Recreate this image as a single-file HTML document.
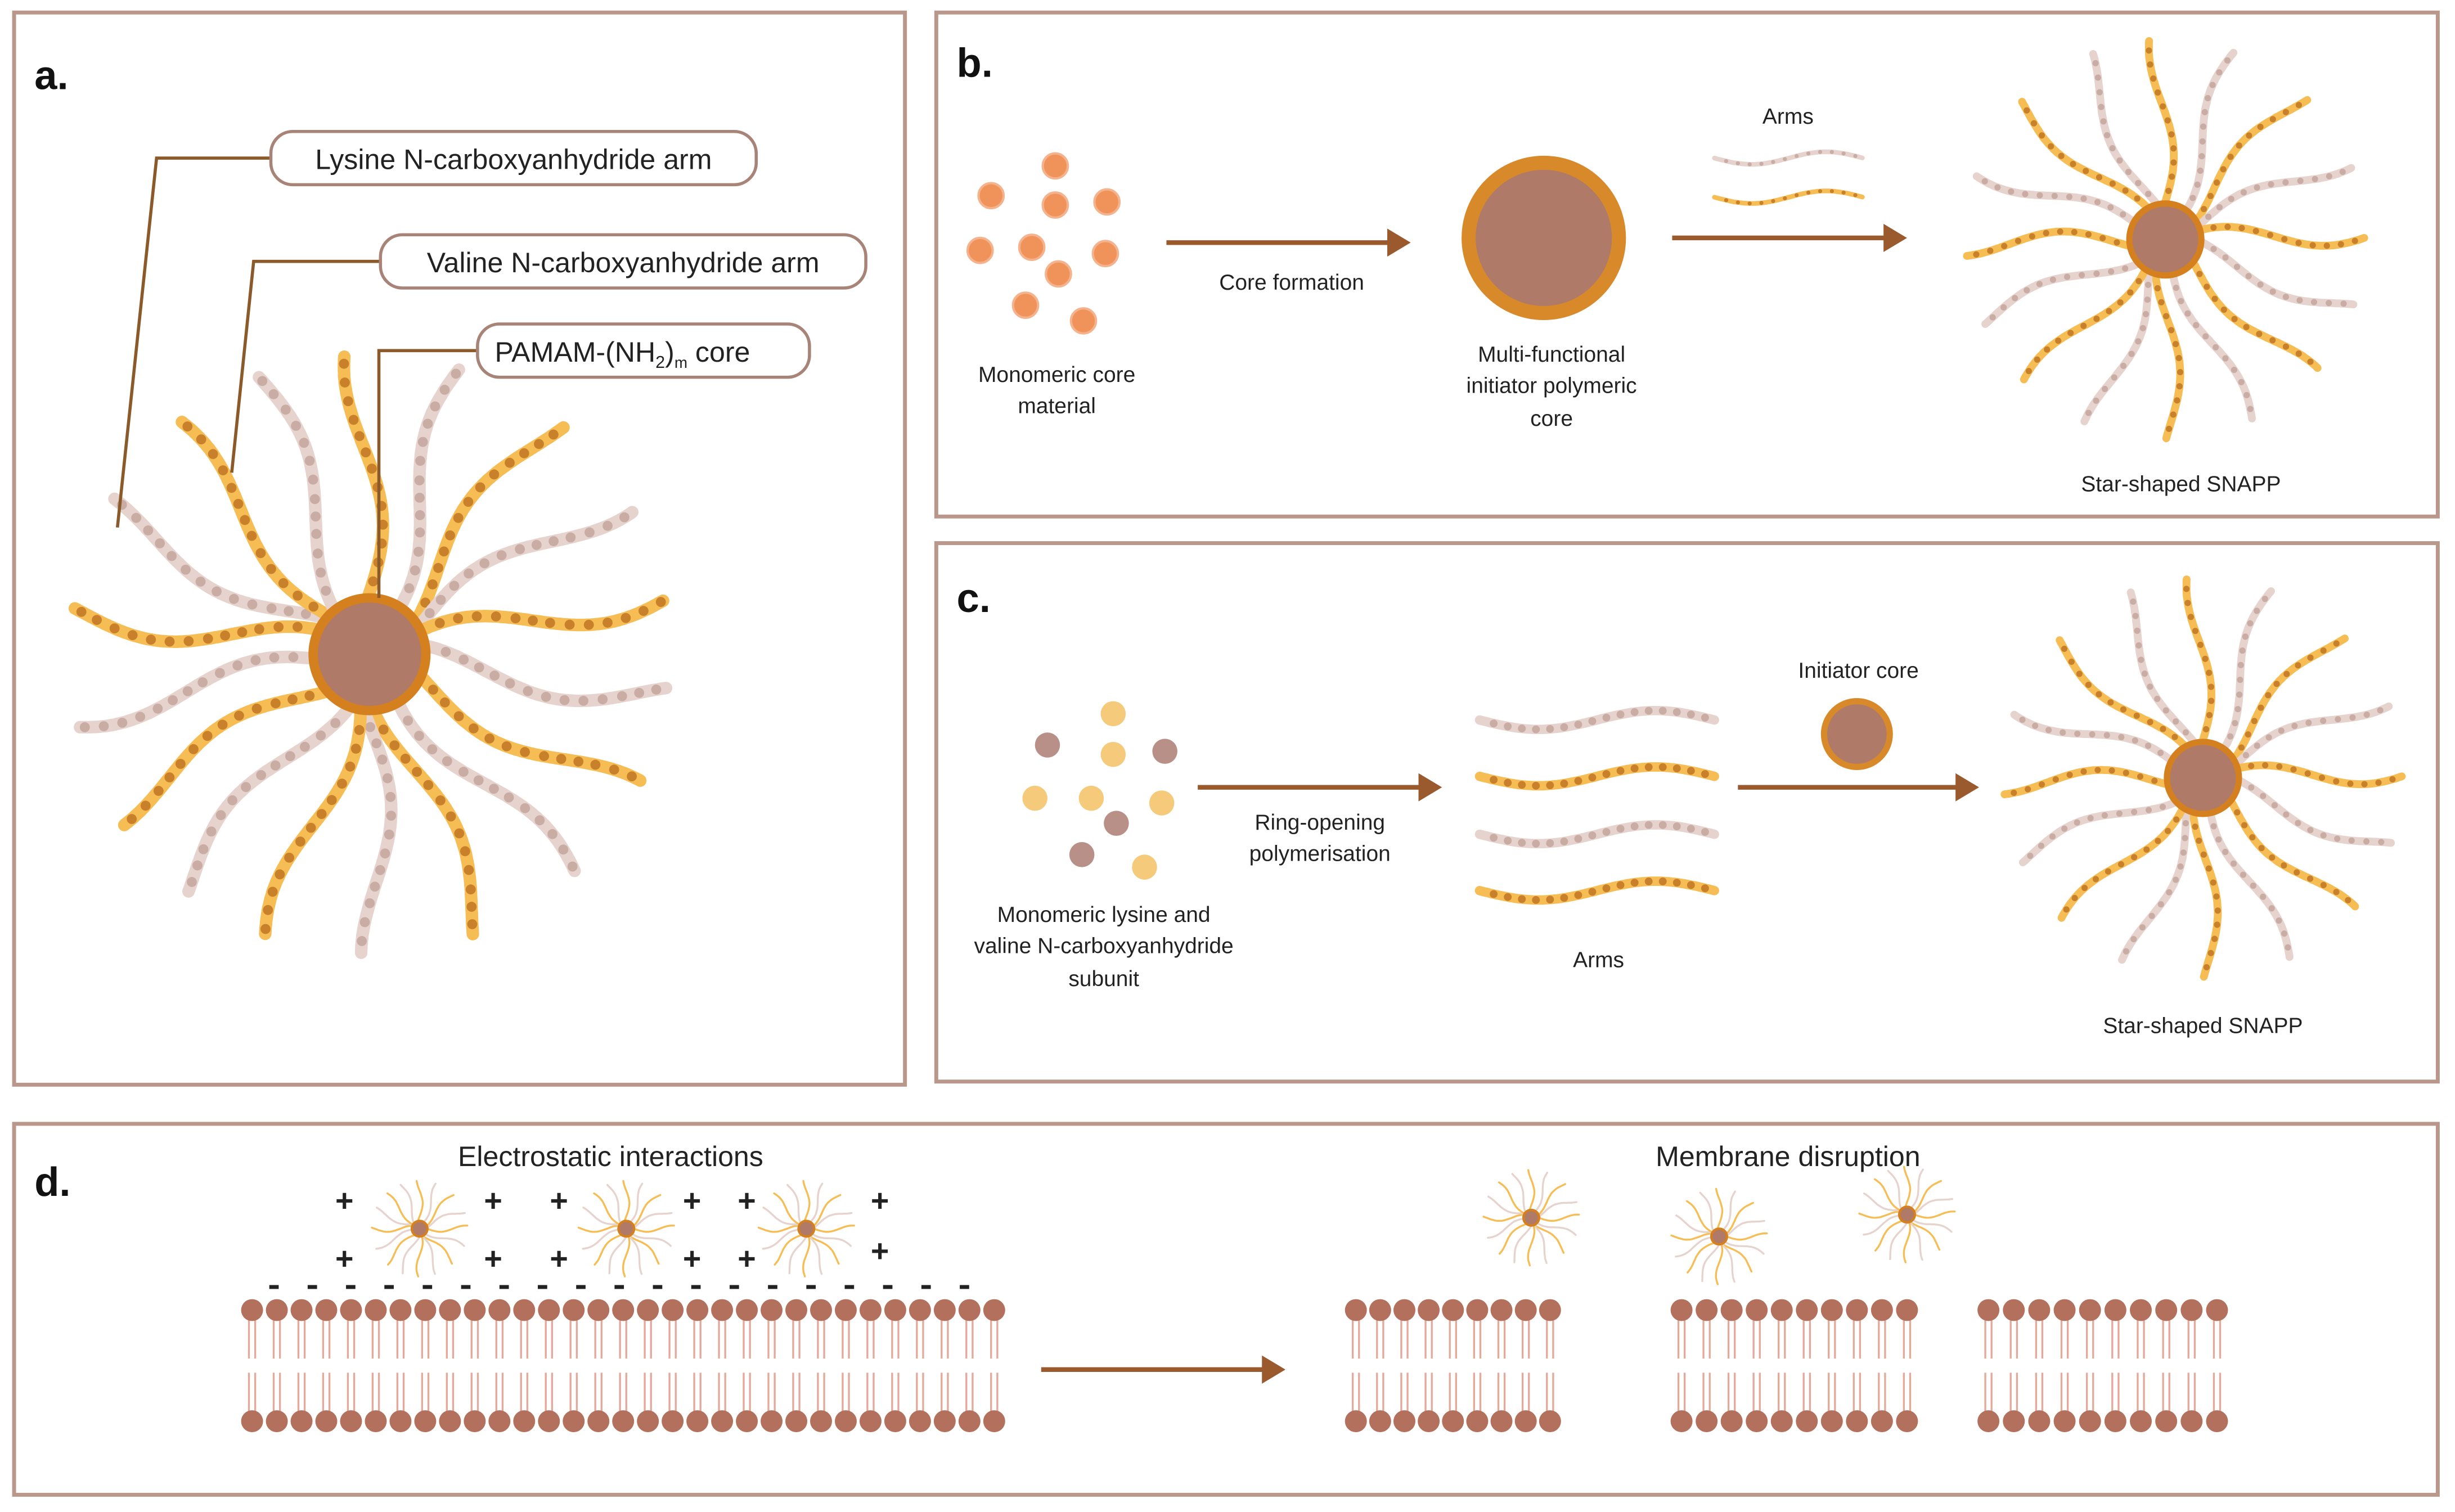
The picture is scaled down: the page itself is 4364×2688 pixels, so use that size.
<!DOCTYPE html>
<html><head><meta charset="utf-8">
<style>
html,body{margin:0;padding:0;background:#fff;}
svg{display:block;}
text{font-family:"Liberation Sans",sans-serif;fill:#222;}
</style></head>
<body>
<svg id="s" xmlns="http://www.w3.org/2000/svg" width="4364" height="2688" viewBox="0 0 1568 966" preserveAspectRatio="none">
<defs>
<marker id="ah" markerWidth="6" markerHeight="6" refX="4" refY="3" orient="auto" markerUnits="strokeWidth">
<path d="M0,0 L5,3 L0,6 z" fill="#9b5a2e"/></marker>
</defs>
<rect width="1568" height="966" fill="#fff"/>
<g fill="none" stroke="#b9978b" stroke-width="2.5">
<rect x="9" y="8" width="569" height="685"/>
<rect x="598" y="8" width="959" height="322"/>
<rect x="598" y="347" width="959" height="344"/>
<rect x="9" y="718" width="1548" height="237"/>
</g>
<g font-weight="bold" font-size="26">
<text x="22" y="57" style="fill:#111">a.</text>
<text x="611" y="49" style="fill:#111">b.</text>
<text x="611" y="391" style="fill:#111">c.</text>
<text x="22" y="764" style="fill:#111">d.</text>
</g>
<g id="gen"></g>
<g stroke="#8b5a2b" stroke-width="2" fill="none">
<polyline points="173,101 100,101 75,337"/>
<polyline points="243,167 162,167 148,302"/>
<polyline points="305,224 242,224 242,382"/>
</g>
<g fill="#fff" stroke="#a88478" stroke-width="2">
<rect x="173" y="84" width="310" height="34" rx="14"/>
<rect x="243" y="150" width="310" height="34" rx="14"/>
<rect x="305" y="207" width="212" height="34" rx="14"/>
</g>
<g font-size="18">
<text x="328" y="108" text-anchor="middle">Lysine N-carboxyanhydride arm</text>
<text x="398" y="174" text-anchor="middle">Valine N-carboxyanhydride arm</text>
<text x="316" y="231">PAMAM-(NH<tspan font-size="11" dy="4">2</tspan><tspan dy="-4">)</tspan><tspan font-size="10" dy="4">m</tspan><tspan dy="-4"> core</tspan></text>
</g>
<g stroke="#9b5a2e" stroke-width="3" marker-end="url(#ah)">
<line x1="745" y1="155" x2="898" y2="155"/>
<line x1="1068" y1="152" x2="1215" y2="152"/>
<line x1="765" y1="503" x2="918" y2="503"/>
<line x1="1110" y1="503" x2="1261" y2="503"/>
<line x1="665" y1="875" x2="818" y2="875"/>
</g>
<circle cx="986" cy="152" r="48" fill="#b07a68" stroke="#d88a2a" stroke-width="9"/>
<circle cx="1186" cy="469" r="21" fill="#b07a68" stroke="#d88a2a" stroke-width="4"/>
<g font-size="14" text-anchor="middle">
<text x="1142" y="79">Arms</text>
<text x="825" y="185">Core formation</text>
<text x="675" y="244">Monomeric core</text>
<text x="675" y="264">material</text>
<text x="991" y="231">Multi-functional</text>
<text x="991" y="251">initiator polymeric</text>
<text x="991" y="272">core</text>
<text x="1393" y="314">Star-shaped SNAPP</text>
<text x="1187" y="433">Initiator core</text>
<text x="843" y="530">Ring-opening</text>
<text x="843" y="550">polymerisation</text>
<text x="705" y="589">Monomeric lysine and</text>
<text x="705" y="609">valine N-carboxyanhydride</text>
<text x="705" y="630">subunit</text>
<text x="1021" y="618">Arms</text>
<text x="1407" y="660">Star-shaped SNAPP</text>
</g>
<g font-size="18" text-anchor="middle">
<text x="390" y="745">Electrostatic interactions</text>
<text x="1142" y="745">Membrane disruption</text>
</g>
</svg>
<script>
(function(){
var NS="http://www.w3.org/2000/svg",g=document.getElementById("gen");
function el(n,a){var e=document.createElementNS(NS,n);for(var k in a)e.setAttribute(k,a[k]);g.appendChild(e);return e;}
var OR=["#f6bd55","#c8802a"],GR=["#e6d3cd","#c9aca3"];
function arm(pts,col,w,bead,sp){
  var d="M"+pts.map(function(p){return p[0].toFixed(1)+","+p[1].toFixed(1)}).join(" L");
  el("path",{d:d,fill:"none",stroke:col[0],"stroke-width":w,"stroke-linecap":"round","stroke-linejoin":"round"});
  if(bead){var acc=0;for(var i=1;i<pts.length;i++){var dx=pts[i][0]-pts[i-1][0],dy=pts[i][1]-pts[i-1][1];acc+=Math.sqrt(dx*dx+dy*dy);if(acc>=sp){acc=0;el("circle",{cx:pts[i][0],cy:pts[i][1],r:bead,fill:col[1]});}}}
}
function star(cx,cy,r,n,L,A,w,bead,sp,off){
  for(var k=0;k<n;k++){
    var th=off+k*2*Math.PI/n,ux=Math.cos(th),uy=Math.sin(th),px=-uy,py=ux,pts=[];
    for(var t=0;t<=L;t+=1.5){var o=A*Math.sin(t/L*Math.PI*1.6+k);pts.push([cx+ux*(r+t)+px*o,cy+uy*(r+t)+py*o]);}
    arm(pts,k%2?GR:OR,w,bead,sp);
  }
}
function core(cx,cy,r,sw){el("circle",{cx:cx,cy:cy,r:r,fill:"#b07a68",stroke:"#d4801f","stroke-width":sw});}
star(236,418,36,18,155,11,8,3.2,11,-1.6);core(236,418,36,6);
star(1383,153,22,16,105,7,5,2,8,-1.6);core(1383,153,23,4);
star(1407,497,22,16,105,7,5,2,8,-1.6);core(1407,497,23,4);
[[268,785],[400,785],[515,785],[978,778],[1098,790],[1218,776]].forEach(function(c){
  star(c[0],c[1],5,16,26,2,1.2,0,0,0);core(c[0],c[1],5,1.5);
});
[[674,106],[633,125],[674,131],[707,129],[626,160],[659,158],[706,162],[676,175],[655,195],[692,205]].forEach(function(p){el("circle",{cx:p[0],cy:p[1],r:8,fill:"#f0935a",stroke:"#f4b38d","stroke-width":1.5});});
[[711,456,"#f5ca7a"],[669,476,"#b89088"],[711,482,"#f5ca7a"],[744,480,"#b89088"],[661,510,"#f5ca7a"],[697,510,"#f5ca7a"],[742,513,"#f5ca7a"],[713,526,"#b89088"],[691,546,"#b89088"],[731,554,"#f5ca7a"]].forEach(function(p){el("circle",{cx:p[0],cy:p[1],r:8,fill:p[2]});});
function wav(x0,x1,y,A,col,w,bead,sp){var pts=[];for(var x=x0;x<=x1;x+=1.5)pts.push([x,y+A*Math.sin((x-x0)/(x1-x0)*Math.PI*2)]);arm(pts,col,w,bead,sp);}
wav(1095,1190,101,4,GR,3,1.3,7);wav(1095,1190,126,4,OR,3,1.3,7);
wav(945,1095,460,6,GR,6,2.5,9);wav(945,1095,496,6,OR,6,2.5,9);wav(945,1095,533,6,GR,6,2.5,9);wav(945,1095,569,6,OR,6,2.5,9);
[220,315,357,442,477,562].forEach(function(x,i){[768,805].forEach(function(y){var yy=y+(i==5&&y==805?-5:0);el("text",{x:x,y:yy+6,"font-size":20,"text-anchor":"middle","font-weight":"bold"}).textContent="+";});});
for(var x=175;x<=628;x+=24.5){el("rect",{x:x-3,y:821,width:6,height:2.5,fill:"#222"});}
function mem(x0,x1){var n=Math.round((x1-x0)/15.8);for(var i=0;i<=n;i++){var x=x0+i*(x1-x0)/n;
  ["M"+(x-2)+",840 L"+(x-2)+",868","M"+(x+2)+",840 L"+(x+2)+",868","M"+(x-2)+",877 L"+(x-2)+",905","M"+(x+2)+",877 L"+(x+2)+",905"].forEach(function(d){el("path",{d:d,stroke:"#e3a99b","stroke-width":1.2});});
  el("circle",{cx:x,cy:837,r:7,fill:"#b3705c"});el("circle",{cx:x,cy:908,r:7,fill:"#b3705c"});}}
mem(161,635);mem(866,990);mem(1074,1218);mem(1270,1416);
})();
</script>
</body></html>
